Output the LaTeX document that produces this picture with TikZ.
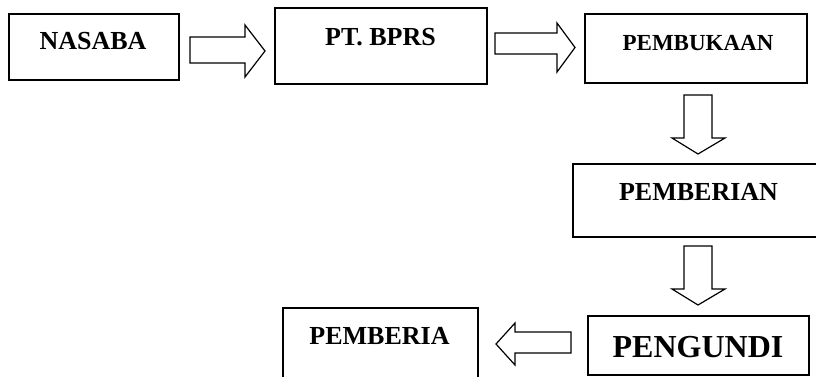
\documentclass[tikz,border=0pt]{standalone}
\usepackage{fontspec}
\setmainfont{Liberation Serif}
\usepackage{tikz}
\usetikzlibrary{positioning}

\tikzset{
  box/.style={draw=black,line width=1.6pt,rectangle,inner sep=0pt},
  lbl/.style={font=\bfseries\fontsize{26}{30}\selectfont,inner sep=0pt},
  fat/.style={draw=black,line width=1.2pt,fill=white,line join=miter}
}

\begin{document}
\begin{tikzpicture}[x=1pt,y=-1pt]
  \useasboundingbox (0,0) rectangle (816,376);
  \clip (0,0) rectangle (816,376);
  % boxes
  \node[box,minimum width=170pt,minimum height=66pt] (nasaba) at (94,47) {};
  \node[box,minimum width=212pt,minimum height=76pt] (bprs) at (381,46) {};
  \node[box,minimum width=222pt,minimum height=69pt] (buka) at (696,48.5) {};
  \node[box,minimum width=252pt,minimum height=73pt] (beri) at (699,200.5) {};
  \node[box,minimum width=221pt,minimum height=59pt] (undi) at (698.5,345.5) {};
  \node[box,minimum width=195pt,minimum height=84pt] (hadiah) at (380.5,350) {};
  % texts
  \node[lbl] (nasabaT) at (93,41) {NASABA};
  \node[lbl] (bprsT) at (380.5,37) {PT. BPRS};
  \node[lbl,font=\bfseries\fontsize{23}{27}\selectfont] (bukaT) at (698,43) {PEMBUKAAN};
  \node[lbl] (beriT) at (698.5,192) {PEMBERIAN};
  \node[lbl,font=\bfseries\fontsize{32}{36}\selectfont] (undiT) at (698,347) {PENGUNDI};
  \node[lbl] (hadiahT) at (379.5,336) {PEMBERIA};
  % block arrows
  \draw[fat] (190,37) -- (245,37) -- (245,25) -- (265,51) -- (245,77) -- (245,63) -- (190,63) -- cycle;
  \draw[fat] (495,33) -- (557,33) -- (557,23) -- (575,47.5) -- (557,72) -- (557,54) -- (495,54) -- cycle;
  \draw[fat] (684,95) -- (712,95) -- (712,138) -- (725,138) -- (698,154) -- (672,138) -- (684,138) -- cycle;
  \draw[fat] (684,246) -- (712,246) -- (712,289) -- (725,289) -- (698,305) -- (672,289) -- (684,289) -- cycle;
  \draw[fat] (571,332) -- (515,332) -- (515,323) -- (496,344) -- (515,365) -- (515,353) -- (571,353) -- cycle;
\end{tikzpicture}
\end{document}
